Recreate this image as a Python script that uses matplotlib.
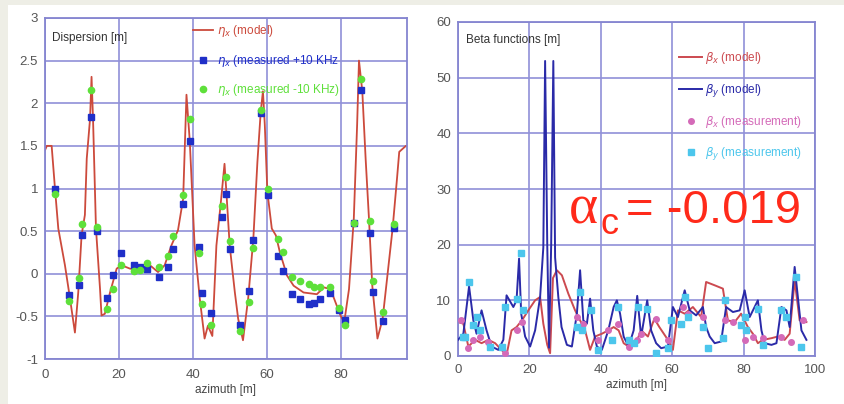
import matplotlib.pyplot as plt
from matplotlib.patches import Rectangle

# ---- dispersion (left panel) ----
s_model = [0, 0.5, 1.8, 2.7, 3.6, 5.4, 6.8, 8.1, 9.0, 9.9, 10.8, 11.3, 12.2, 12.6, 13.0, 13.8, 14.9, 15.3,
           16.2, 17.6, 19.4, 20.7, 23.0, 25.7, 28.4, 30.6, 32.4, 34.2, 36.0, 37.4, 38.3, 39.2, 40.5, 41.9,
           43.2, 44.1, 45.3, 46.4, 47.7, 48.6, 49.1, 50.0, 51.4, 52.3, 53.6, 55.0, 56.4, 57.5, 58.4, 59.0,
           59.5, 60.2, 61.4, 62.5, 63.6, 65.5, 67.3, 70.0, 73.6, 75.5, 77.3, 78.6, 80.0, 81.0, 82.3, 83.6,
           84.5, 85.0, 85.9, 86.8, 87.7, 88.6, 90.0, 91.4, 92.7, 94.1, 95.3, 95.9, 97.7, 98.0]
eta_model = [1.45, 1.5, 1.5, 1.0, 0.53, 0.1, -0.3, -0.69, -0.22, 0.45, 0.69, 1.35, 1.82, 2.31, 1.82, 0.53,
             -0.18, -0.49, -0.47, -0.22, 0.06, 0.1, 0.06, 0.04, 0.1, 0.02, 0.1, 0.33, 0.51, 0.88, 2.1, 1.55,
             0.33, -0.29, -0.76, -0.61, -0.73, 0.33, 0.88, 1.29, 0.96, 0.33, -0.22, -0.53, -0.78, -0.29,
             0.41, 1.31, 1.9, 2.14, 1.75, 0.96, 0.53, 0.45, 0.25, -0.02, -0.14, -0.22, -0.24, -0.16, -0.18,
             -0.33, -0.49, -0.57, -0.18, 0.65, 1.75, 2.5, 2.14, 1.35, 0.65, -0.14, -0.76, -0.53, -0.02,
             0.53, 1.12, 1.43, 1.5, 1.5]

bpm_s = [2.7, 6.6, 9.3, 10.0, 12.4, 14.1, 16.9, 18.3, 20.7, 24.2, 25.7, 27.6, 30.9, 33.2, 34.7, 37.3,
         39.2, 41.6, 42.4, 45.0, 47.9, 48.9, 50.2, 52.7, 55.3, 56.4, 58.6, 60.5, 63.0, 64.5, 66.8, 69.1,
         71.4, 72.7, 74.4, 77.1, 79.5, 81.1, 83.6, 85.6, 88.0, 88.8, 91.5, 94.5]
eta_plus = [1.0, -0.25, -0.13, 0.45, 1.84, 0.5, -0.29, -0.02, 0.24, 0.10, 0.08, 0.06, -0.04, 0.08, 0.29,
            0.82, 1.56, 0.31, -0.22, -0.46, 0.66, 0.93, 0.29, -0.6, -0.2, 0.4, 1.88, 0.92, 0.21, 0.03,
            -0.24, -0.3, -0.35, -0.34, -0.3, -0.22, -0.42, -0.54, 0.59, 2.16, 0.48, -0.21, -0.56, 0.54]
eta_minus = [0.94, -0.32, -0.05, 0.58, 2.15, 0.55, -0.41, -0.18, 0.10, 0.03, 0.04, 0.13, 0.08, 0.21, 0.44,
             0.92, 1.81, 0.24, -0.35, -0.6, 0.8, 1.14, 0.38, -0.67, -0.33, 0.3, 1.92, 1.0, 0.41, 0.26,
             -0.04, -0.08, -0.12, -0.15, -0.16, -0.15, -0.4, -0.6, 0.59, 2.29, 0.62, -0.09, -0.45, 0.58]

# ---- beta functions (right panel) ----
bx_s = [0, 1.5, 2.9, 4.8, 6.6, 8.5, 10.4, 12.2, 13.6, 15.0, 16.4, 17.9, 19.7, 21.6, 23.0, 23.9, 25.0, 25.8,
        26.6, 27.7, 29.1, 30.9, 32.8, 34.2, 35.6, 37.0, 38.4, 40.3, 42.1, 43.6, 45.0, 46.4, 47.8, 49.6,
        51.3, 53.2, 55.0, 56.4, 58.8, 60.2, 61.6, 63.5, 65.8, 68.1, 69.5, 71.9, 74.2, 75.6, 77.5, 79.3,
        81.2, 82.6, 84.0, 85.4, 87.8, 89.6, 91.5, 92.9, 94.3, 95.7, 97.6]
bx_model = [6.1, 5.8, 1.7, 2.9, 2.3, 2.9, 2.3, 1.1, 0.2, 4.6, 5.2, 6.4, 8.2, 10.0, 10.6, 5.8, 2.0, 0.5,
            14.0, 15.4, 14.5, 11.2, 8.2, 6.4, 4.6, 1.1, 3.5, 4.0, 4.6, 5.2, 4.6, 2.3, 1.7, 2.0, 4.6, 3.5,
            6.7, 5.2, 2.9, 1.1, 8.2, 7.6, 8.8, 7.0, 13.3, 12.7, 12.1, 6.4, 6.1, 7.6, 5.2, 4.0, 2.3, 2.9,
            3.2, 3.5, 2.9, 4.0, 13.6, 6.4, 6.1]

by_s = [0, 1.5, 3.1, 4.3, 5.2, 6.6, 8.0, 9.4, 11.3, 12.7, 13.6, 15.5, 16.4, 17.1, 17.7, 18.8, 20.2, 21.6,
        23.0, 23.9, 24.4, 25.0, 25.5, 26.1, 26.7, 27.2, 28.1, 29.0, 30.5, 31.9, 33.3, 34.2, 35.1, 36.1,
        37.0, 37.9, 38.9, 40.3, 42.1, 43.6, 44.5, 45.4, 46.4, 47.8, 49.2, 50.2, 51.3, 53.0, 54.1, 55.5,
        56.9, 58.8, 60.2, 61.6, 63.5, 64.9, 66.7, 68.6, 69.5, 70.5, 71.9, 73.7, 75.1, 77.0, 78.9, 80.3,
        81.7, 84.0, 85.0, 85.9, 87.8, 89.2, 90.6, 92.0, 92.9, 94.3, 95.2, 96.2, 97.6]
by_model = [2.9, 4.0, 12.5, 6.4, 4.0, 8.2, 4.6, 1.7, 1.1, 2.9, 10.9, 8.8, 10.0, 17.5, 7.6, 3.5, 1.7, 4.6,
            10.6, 19.5, 53.0, 20.0, 1.5, 20.0, 53.0, 17.7, 10.6, 5.2, 2.0, 1.7, 7.6, 15.4, 6.4, 5.8, 10.3,
            4.6, 1.7, 1.1, 4.6, 8.8, 10.0, 7.6, 3.5, 1.7, 4.6, 10.8, 3.5, 10.0, 4.6, 2.3, 1.4, 1.7, 8.8,
            7.0, 11.8, 8.2, 7.3, 8.8, 5.2, 3.5, 2.3, 2.6, 8.8, 7.9, 8.2, 11.8, 7.0, 10.0, 4.6, 2.3, 2.0,
            2.3, 8.8, 8.2, 5.2, 16.0, 10.6, 4.6, 2.9]

mx_s = [0.8, 2.9, 4.3, 6.2, 8.5, 13.2, 16.4, 17.9, 33.3, 35.1, 39.3, 42.1, 44.9, 47.8, 50.1, 51.3, 55.5,
        58.8, 63.0, 64.4, 68.6, 74.7, 77.0, 80.3, 82.6, 85.4, 90.6, 93.4, 96.7]
bx_meas = [6.4, 1.4, 2.9, 3.5, 2.6, 0.5, 4.6, 6.1, 7.0, 5.8, 2.9, 4.6, 5.8, 1.7, 2.9, 4.0, 6.7, 2.9, 8.8,
           7.6, 7.0, 6.4, 6.1, 2.9, 3.5, 3.2, 3.5, 2.6, 6.4]

my_s = [1.5, 2.0, 3.1, 4.3, 5.2, 6.2, 9.0, 12.2, 13.2, 16.4, 17.7, 18.3, 33.3, 34.2, 34.7, 37.3, 39.3,
        43.1, 44.9, 47.8, 49.4, 50.4, 53.0, 55.5, 58.8, 59.7, 62.5, 63.5, 64.4, 68.6, 70.0, 74.2, 74.7,
        79.3, 80.3, 80.7, 84.0, 85.4, 90.6, 92.0, 94.8, 96.2]
by_meas = [3.5, 3.5, 13.3, 5.5, 7.0, 4.6, 1.7, 1.7, 8.8, 10.3, 18.5, 8.2, 5.2, 11.5, 4.6, 8.2, 1.1, 2.9,
           8.8, 2.9, 2.3, 8.8, 8.5, 0.5, 1.4, 6.4, 5.8, 10.6, 7.0, 5.2, 1.4, 3.2, 10.0, 5.5, 7.0, 4.6,
           8.5, 2.0, 8.2, 7.0, 14.2, 1.7]

W, H = 845, 404
GRID = "#9090d8"
SPINE = "#8585d0"
TICK = "#555555"

plt.rcParams['font.family'] = ['Liberation Sans', 'DejaVu Sans']

fig = plt.figure(figsize=(W / 100, H / 100), dpi=100, facecolor="#eeeee6")
fig.patches.append(Rectangle((8 / W, 0), 1, 1 - 5 / H, transform=fig.transFigure,
                             facecolor="white", edgecolor="none", zorder=-10))


def px_axes(l, r, t, b):
    return fig.add_axes([l / W, (H - b) / H, (r - l) / W, (b - t) / H])


def style(ax, pad_x):
    ax.grid(True, color=GRID, linewidth=1.2)
    ax.set_axisbelow(True)
    for sp in ax.spines.values():
        sp.set_color(SPINE)
        sp.set_linewidth(1.3)
    ax.tick_params(length=0, labelsize=9.5, labelcolor=TICK)
    ax.tick_params(axis='x', pad=pad_x)
    ax.tick_params(axis='y', pad=5)
    ax.set_xlabel("azimuth [m]", fontsize=8.5, color="#444444", labelpad=2)


# left panel
ax1 = px_axes(45, 407, 18, 359)
ax1.plot(s_model, eta_model, color="#cc4a3c", lw=1.3, label=r"$\eta_x$ (model)", zorder=2)
ax1.plot(bpm_s, eta_plus, ls="none", marker="s", ms=5, color="#1f2fc8",
         label=r"$\eta_x$ (measured +10 KHz", zorder=3)
ax1.plot(bpm_s, eta_minus, ls="none", marker="o", ms=4.5, color="#5ee03a",
         label=r"$\eta_x$ (measured -10 KHz)", zorder=4)
ax1.set_xlim(0, 98)
ax1.set_ylim(-1, 3)
ax1.set_xticks([0, 20, 40, 60, 80])
ax1.set_yticks([-1, -0.5, 0, 0.5, 1, 1.5, 2, 2.5, 3])
ax1.set_yticklabels(["-1", "-0.5", "0", "0.5", "1", "1.5", "2", "2.5", "3"])
style(ax1, 7)
ax1.text(0.02, 0.94, "Dispersion [m]", transform=ax1.transAxes, fontsize=8.5,
         color="#333333", va="center")
leg1 = ax1.legend(loc="upper left", bbox_to_anchor=(0.41, 0.985), frameon=False, fontsize=8.5,
                  handlelength=1.7, handletextpad=0.3, labelspacing=1.15, borderpad=0,
                  borderaxespad=0)
for t, c in zip(leg1.get_texts(), ["#cc4a3c", "#1f2fc8", "#5ee03a"]):
    t.set_color(c)

# right panel
ax2 = px_axes(458, 815, 22, 356)
ax2.plot(bx_s, bx_model, color="#cc4a50", lw=1.4, label=r"$\beta_x$ (model)", zorder=2)
ax2.plot(by_s, by_model, color="#2a2aa8", lw=1.4, label=r"$\beta_y$ (model)", zorder=3)
ax2.plot(mx_s, bx_meas, ls="none", marker="o", ms=4, color="#d46ab8",
         label=r"$\beta_x$ (measurement)", zorder=4)
ax2.plot(my_s, by_meas, ls="none", marker="s", ms=5, color="#4cc6ec",
         label=r"$\beta_y$ (measurement)", zorder=5)
ax2.set_xlim(0, 100)
ax2.set_ylim(0, 60)
ax2.set_xticks([0, 20, 40, 60, 80, 100])
ax2.set_yticks([0, 10, 20, 30, 40, 50, 60])
style(ax2, 6)
ax2.text(0.022, 0.946, "Beta functions [m]", transform=ax2.transAxes, fontsize=8.5,
         color="#333333", va="center")
leg2 = ax2.legend(loc="upper left", bbox_to_anchor=(0.62, 0.915), frameon=False, fontsize=8.5,
                  handlelength=1.9, handletextpad=0.3, labelspacing=1.3, borderpad=0,
                  borderaxespad=0)
for t, c in zip(leg2.get_texts(), ["#cc4a50", "#2a2aa8", "#d46ab8", "#4cc6ec"]):
    t.set_color(c)

# momentum compaction annotation
RED = "#ff2a1a"
fig.text(569 / W, (H - 223) / H, "\u03b1", family="Liberation Serif", fontsize=40, color=RED,
         ha="left", va="baseline")
fig.text(601 / W, (H - 234) / H, "c", fontsize=26, color=RED, ha="left", va="baseline")
fig.text(626 / W, (H - 223) / H, "= -0.019", fontsize=34, color=RED, ha="left", va="baseline")

fig.savefig("out.png", dpi=100, facecolor=fig.get_facecolor())
